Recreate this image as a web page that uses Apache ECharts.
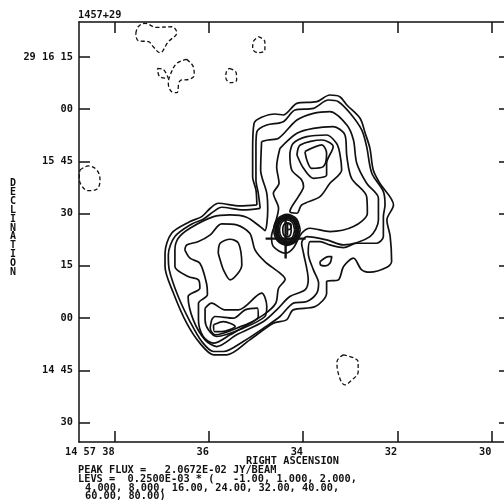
<!DOCTYPE html>
<html>
<head>
<meta charset="utf-8" />
<title>1457+29</title>
<script src="https://cdn.jsdelivr.net/npm/echarts@6/dist/echarts.min.js"></script>
<style>
html, body {margin:0;padding:0;background:#fff;overflow:hidden;width:504px;height:500px;}
/* frame runs a little past the right edge of the window, like the scan */
#map {width:520px;height:500px;}
</style>
</head>
<body>
<div id="map"></div>
<script type="text/javascript">
// x = right ascension seconds past 14 57, y = arcsec above 29 14 30
var raTicks = [38, 36, 34, 32, 30];
var raLabels = ['14 57 38', '36', '34', '32', '30'];
var decTicks = [0, 15, 30, 45, 60, 75, 90, 105];
var decLabels = ['30', '14 45', '00', '15', '30', '15 45', '00', '29 16 15'];

var contourA = [[34.98,62.47],[35.0,66.77],[35.07,70.6],[35.07,78.25],[35.04,85.9],[34.88,87.63],[34.59,88.59],[34.42,88.3],[34.13,91.65],[33.71,92.12],[33.43,94.04],[33.22,93.56],[33.07,91.17],[32.79,87.34],[32.68,83.04],[32.58,78.73],[32.51,72.51],[32.37,68.69],[32.08,62.47],[32.22,58.17],[32.15,53.38],[32.12,46.21],[32.22,44.59],[32.58,43.15],[32.755,43.82],[32.93,47.17],[33.14,44.78],[33.25,40.95],[33.5,40.47],[33.5,37.12],[33.74,33.3],[34.21,32.34],[34.35,29.47],[34.63,28.52],[35.13,23.73],[35.62,19.43],[35.9,19.43],[36.19,22.78],[36.47,28.52],[36.75,37.12],[36.93,44.78],[36.93,48.6],[36.79,54.34],[36.4,57.69],[36.15,59.12],[35.97,61.51],[35.8,62.95],[35.34,62.18],[34.98,62.47]];
var contourB = [[34.91,61.51],[34.95,65.82],[35.0,69.65],[35.0,79.21],[34.98,83.51],[34.77,85.43],[34.42,86.38],[34.17,89.73],[33.78,90.21],[33.46,92.6],[33.25,92.12],[33.0,88.78],[32.755,83.99],[32.65,79.21],[32.54,71.56],[32.295,66.3],[32.26,62.47],[32.295,59.12],[32.295,53.38],[32.44,51.47],[32.86,51.47],[33.14,50.23],[33.43,50.99],[33.64,51.95],[33.85,51.95],[33.89,48.6],[33.78,43.82],[33.67,39.99],[33.71,37.12],[33.92,34.73],[34.21,34.25],[34.49,30.43],[34.84,27.08],[35.27,23.25],[35.69,20.38],[35.9,20.38],[36.15,23.25],[36.4,28.99],[36.65,36.17],[36.84,43.82],[36.86,48.12],[36.72,53.38],[36.36,57],[36.12,58.36],[35.9,60.56],[35.73,61.8],[35.27,61.04],[34.91,61.51]];
var contourC = [[34.88,80.65],[34.74,81.12],[34.52,81.6],[34.13,86.86],[33.78,88.78],[33.43,89.26],[33.07,85.43],[32.93,81.12],[32.86,74.43],[32.65,68.69],[32.4,64.38],[32.4,58.17],[32.58,53.38],[33.14,50.99],[33.5,52.43],[33.92,53.38],[34.03,51.47],[33.99,48.6],[33.89,40.95],[33.96,38.08],[34.28,36.17],[34.56,32.34],[34.84,28.99],[35.41,25.17],[35.83,21.8],[36.08,23.73],[36.33,29.47],[36.44,36.17],[36.19,38.56],[36.22,40.95],[36.44,41.91],[36.72,44.78],[36.72,49.56],[36.65,52.91],[36.4,55.78],[35.9,59.12],[35.55,59.6],[35.2,58.93],[34.91,56.25],[34.81,55.11],[34.75,61.04],[34.77,65.82],[34.9,72.51],[34.88,80.65]];
var contourD = [[34.49,78.73],[34.13,83.04],[33.78,84.47],[33.36,84.95],[33.11,82.56],[33.07,76.34],[32.97,70.12],[32.65,64.86],[32.635,60.08],[32.93,56.25],[33.43,54.82],[33.85,55.78],[34.03,54.34],[34.21,50.04],[34.38,48.6],[34.63,50.52],[34.67,53.38],[34.59,57.21],[34.52,61.51],[34.63,65.82],[34.51,68.69],[34.56,73.47],[34.49,78.73]];
var northE = [[34.28,77.3],[34.21,80.17],[33.92,82.08],[33.5,82.56],[33.29,80.17],[33.22,77.3],[33.18,72.51],[33.43,68.69],[33.64,64.86],[34.03,62.47],[34.13,60.08],[34.28,60.56],[34.1,64.86],[33.99,67.73],[34.03,69.65],[34.24,72.51],[34.28,77.3]];
var northF = [[34.13,76.82],[34.06,79.69],[33.6,81.12],[33.36,79.21],[33.5,74.43],[33.5,71.08],[33.78,70.12],[33.99,72.99],[34.13,76.82]];
var northG = [[33.96,77.78],[33.6,79.69],[33.5,77.3],[33.57,73.47],[33.82,72.99],[33.92,75.38],[33.96,77.78]];
var southE = [[36.51,49.56],[36.47,50.99],[36.22,51.95],[35.97,53.86],[35.73,57.02],[35.41,56.73],[35.13,54.34],[35.02,49.56],[34.81,46.21],[34.49,42.86],[34.38,41.14],[34.52,38.56],[34.58,34.25],[34.84,30.91],[35.55,25.17],[35.9,22.78],[36.12,24.69],[36.22,29.47],[36.22,34.25],[36.03,36.65],[36.05,39.99],[36.19,45.73],[36.4,47.17],[36.51,49.56]];
var southI = [[35.8,48.6],[35.76,51.47],[35.55,52.62],[35.37,51.47],[35.3,45.25],[35.55,40.95],[35.69,43.82],[35.76,46.69],[35.8,48.6]];
var southF = [[36.08,32.82],[35.94,34.25],[35.66,32.34],[35.37,32.34],[34.88,37.12],[34.77,33.3],[34.81,30.43],[35.27,27.08],[35.83,24.69],[36.01,26.6],[36.08,29.47],[36.08,32.82]];
var southG = [[35.94,29.47],[35.87,30.43],[35.48,29.95],[35.23,32.34],[34.97,32.82],[34.95,30.43],[35.41,27.08],[35.87,25.17],[35.97,27.08],[35.94,29.47]];
var southH = [[35.9,28.04],[35.69,28.99],[35.44,27.56],[35.73,26.12],[35.88,26.12],[35.9,28.04]];
var tailLoop = [[33.64,46.21],[33.46,47.65],[33.39,47.65],[33.43,45.73],[33.53,44.97],[33.63,45.25],[33.64,46.21]];

// the core, rings get too close together to separate on the plot
var core1 = [[34.06,55.3],[34.14,58.5],[34.34,59.75],[34.54,58.5],[34.62,55.3],[34.54,52.1],[34.34,50.85],[34.14,52.1],[34.06,55.3]];
var core2 = [[34.09,55.3],[34.16,58.3],[34.34,59.45],[34.52,58.3],[34.59,55.3],[34.52,52.3],[34.34,51.15],[34.16,52.3],[34.09,55.3]];
var core3 = [[34.11,55.3],[34.17,58.1],[34.34,59.15],[34.51,58.1],[34.57,55.3],[34.51,52.5],[34.34,51.45],[34.17,52.5],[34.11,55.3]];
var core4 = [[34.13,55.3],[34.19,57.9],[34.34,58.9],[34.49,57.9],[34.55,55.3],[34.49,52.7],[34.34,51.7],[34.19,52.7],[34.13,55.3]];
var core5 = [[34.15,55.3],[34.2,57.7],[34.34,58.6],[34.48,57.7],[34.53,55.3],[34.48,52.9],[34.34,52],[34.2,52.9],[34.15,55.3]];
var core6 = [[34.18,55.3],[34.225,57.4],[34.34,58.2],[34.455,57.4],[34.5,55.3],[34.455,53.2],[34.34,52.4],[34.225,53.2],[34.18,55.3]];
var core7 = [[34.25,55.3],[34.27,56.75],[34.34,57.3],[34.41,56.75],[34.43,55.3],[34.41,53.85],[34.34,53.3],[34.27,53.85],[34.25,55.3]];
var core8 = [[34.33,53.6],[34.33,57.2],[34.26,57.0],[34.25,55.8],[34.33,55.3]];

// negative level, dashed
var neg1 = [[37.55,111.73],[37.5,113.64],[37.355,114.6],[37.11,113.45],[36.79,113.64],[36.68,111.92],[36.86,109.33],[37.04,106.18],[37.18,107.9],[37.28,109.33],[37.5,109.62],[37.55,111.73]];
var neg2 = [[36.47,104.26],[36.33,102.16],[36.31,99.77],[36.4,98.62],[36.61,98.14],[36.68,94.7],[36.79,94.99],[36.86,97.38],[36.82,99.77],[36.68,103.12],[36.47,104.26]];
var neg2b = [[37.09,101.68],[36.97,101.39],[36.86,98.81],[37.04,99.29],[37.09,101.68]];
var neg3 = [[35.56,101.68],[35.42,100.44],[35.41,98.33],[35.54,97.57],[35.64,99.1],[35.62,101.01],[35.56,101.68]];
var neg4 = [[34.95,110.77],[34.81,109.33],[34.81,106.94],[34.95,106.18],[35.07,107.42],[35.055,109.33],[34.95,110.77]];
var neg5 = [[38.735,72.51],[38.56,73.66],[38.38,72.51],[38.31,69.64],[38.38,66.96],[38.56,66.58],[38.71,68.21],[38.75,70.6],[38.735,72.51]];
var neg6 = [[33.15,19.43],[32.83,17.42],[32.83,14.55],[32.96,12.25],[33.11,10.82],[33.26,14.55],[33.28,17.42],[33.15,19.43]];

var crossH = [[34.795,52.8],[33.945,52.8]];
var crossV = [[34.37,47.06],[34.37,58.54]];

var solid = [contourA, contourB, contourC, contourD, northE, northF, northG, southE, southI, southF, southG, southH, tailLoop,
             core1, core2, core3, core4, core5, core6, core7, core8];
var dashed = [neg1, neg2, neg2b, neg3, neg4, neg5, neg6];

var ink = '#111';
var mono = '"DejaVu Sans Mono", monospace';

function lineSeries(pts, width, dash, smooth) {
  return {
    type: 'line', data: pts, symbol: 'none', smooth: smooth, silent: true, clip: true,
    lineStyle: {color: ink, width: width, type: dash ? [4, 2.5] : 'solid'}
  };
}

var series = [];
solid.forEach(function (c) { series.push(lineSeries(c, 1.7, false, 0.3)); });
dashed.forEach(function (c) { series.push(lineSeries(c, 1.3, true, 0.4)); });
series.push(lineSeries(crossH, 2.4, false, false));
series.push(lineSeries(crossV, 2.4, false, false));

function raAxis(pos, labels) {
  return {
    type: 'value', position: pos, inverse: true, min: 29.607, max: 38.756,
    splitLine: {show: false},
    axisLine: {show: true, onZero: false, lineStyle: {color: ink, width: 1.5}},
    axisTick: {show: true, inside: true, length: 11, customValues: raTicks, lineStyle: {color: ink, width: 1.5}},
    axisLabel: {
      show: labels, customValues: raTicks, margin: 5, align: 'right', verticalAlign: 'top',
      color: ink, fontFamily: mono, fontWeight: 'bold', fontSize: 10.3,
      formatter: function (v) { return raLabels[raTicks.indexOf(v)]; }
    }
  };
}

function decAxis(pos, labels) {
  return {
    type: 'value', position: pos, min: -5.6, max: 115,
    splitLine: {show: false},
    axisLine: {show: true, onZero: false, lineStyle: {color: ink, width: 1.5}},
    axisTick: {show: true, inside: true, length: 11, customValues: decTicks, lineStyle: {color: ink, width: 1.5}},
    axisLabel: {
      show: labels, customValues: decTicks, margin: 6, padding: [6, 0, 0, 0],
      color: ink, fontFamily: mono, fontWeight: 'bold', fontSize: 10.3,
      formatter: function (v) { return decLabels[decTicks.indexOf(v)]; }
    }
  };
}

function note(x, y, str) {
  return {
    type: 'text', x: x, y: y, silent: true,
    style: {text: str, fill: ink, font: 'bold 10.3px ' + mono, textVerticalAlign: 'middle'}
  };
}

var chart = echarts.init(document.getElementById('map'));
chart.setOption({
  animation: false,
  backgroundColor: '#fff',
  grid: {left: 79, top: 22, width: 431, height: 420, containLabel: false},
  xAxis: [raAxis('bottom', true), raAxis('top', false)],
  yAxis: [decAxis('left', true), decAxis('right', false)],
  series: series,
  graphic: [
    note(78, 15, '1457+29'),
    note(246, 461, 'RIGHT ASCENSION'),
    note(78, 470, 'PEAK FLUX =   2.0672E-02 JY/BEAM'),
    note(78, 479, 'LEVS =  0.2500E-03 * (   -1.00, 1.000, 2.000,'),
    note(85, 488, '4.000, 8.000, 16.00, 24.00, 32.00, 40.00,'),
    note(85, 496, '60.00, 80.00)'),
    {
      type: 'text', x: 10, y: 179, silent: true,
      style: {text: 'D\nE\nC\nL\nI\nN\nA\nT\nI\nO\nN', fill: ink, font: 'bold 10px ' + mono, lineHeight: 8.9}
    }
  ]
});
</script>
</body>
</html>
